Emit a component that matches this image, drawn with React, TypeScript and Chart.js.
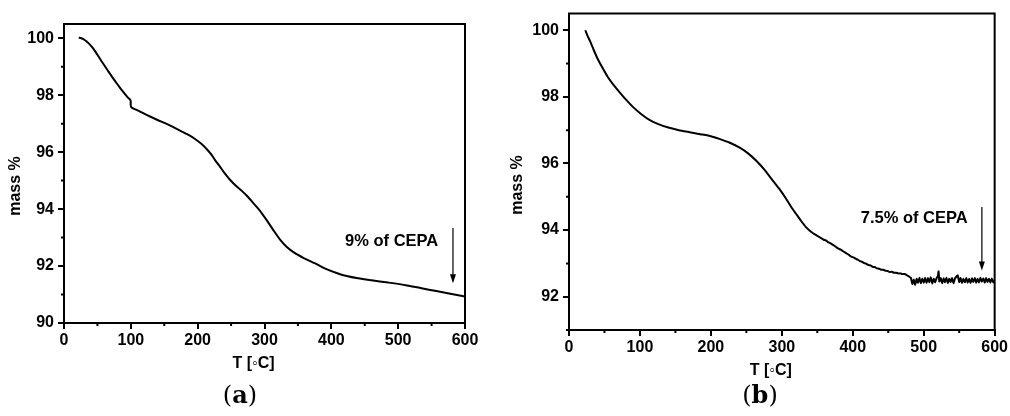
import React, { useEffect, useRef } from "react";
import { Chart, registerables } from "chart.js";

Chart.register(...registerables);

// ---------- data ----------
const tempA = [22, 26, 31, 37, 43, 50, 58, 66, 73, 81, 88, 95, 99.5, 100.5, 110, 120, 128, 140, 153, 165, 175, 185, 195, 205, 213, 220, 226, 233, 240, 248, 258, 266, 274, 283, 293, 303, 313, 323, 333, 345, 358, 375, 390, 410, 423, 440, 460, 485, 513, 535, 557, 580, 600];
const massA = [100.02, 100.0, 99.94, 99.82, 99.66, 99.42, 99.13, 98.85, 98.61, 98.35, 98.13, 97.93, 97.82, 97.58, 97.47, 97.35, 97.26, 97.13, 97.0, 96.86, 96.74, 96.62, 96.48, 96.3, 96.12, 95.93, 95.72, 95.5, 95.27, 95.04, 94.8, 94.64, 94.46, 94.22, 93.95, 93.62, 93.27, 92.94, 92.68, 92.46, 92.29, 92.1, 91.92, 91.74, 91.65, 91.57, 91.5, 91.42, 91.32, 91.22, 91.12, 91.02, 90.93];

const tempB = [23, 26, 30, 35, 40, 47, 54, 63, 72, 81, 90, 102, 114, 126, 140, 155, 170, 185, 200, 212, 226, 240, 252, 264, 276, 287, 297, 306, 313, 320, 327, 334, 343, 353,
  356, 359, 362, 365, 368, 371, 374, 377, 380, 383, 386, 389, 392, 395, 398, 401, 404, 407, 410, 413, 416, 419, 422, 425, 428, 431, 434, 437, 440, 443, 446, 449, 452, 455, 458, 461, 464, 467, 470, 473, 476, 479,
  482, 484, 486, 488, 490, 492, 494, 496, 498, 500, 502, 504, 506, 508, 510, 512, 514, 516, 518, 520, 521, 522, 524, 526, 528, 530, 532, 534, 536, 538, 540, 542, 544, 546, 548, 550, 552, 554, 556, 558, 560, 562, 564, 566, 568, 570, 572, 574, 576, 578, 580, 582, 584, 586, 588, 590, 592, 594, 596, 598, 600];
const massB = [100.0, 99.84, 99.66, 99.4, 99.16, 98.88, 98.62, 98.35, 98.12, 97.9, 97.7, 97.48, 97.3, 97.18, 97.08, 97.0, 96.94, 96.88, 96.82, 96.74, 96.63, 96.48, 96.31, 96.08, 95.8, 95.49, 95.22, 94.94, 94.7, 94.49, 94.28, 94.09, 93.92, 93.79,
  93.75, 93.71, 93.69, 93.64, 93.61, 93.57, 93.53, 93.48, 93.44, 93.41, 93.37, 93.33, 93.29, 93.25, 93.2, 93.18, 93.14, 93.11, 93.07, 93.05, 93.01, 92.99, 92.95, 92.94, 92.9, 92.89, 92.85, 92.84, 92.81, 92.81, 92.78, 92.77, 92.74, 92.75, 92.72, 92.72, 92.7, 92.7, 92.68, 92.68, 92.65, 92.61,
  92.56, 92.38, 92.52, 92.36, 92.54, 92.42, 92.57, 92.4, 92.55, 92.42, 92.57, 92.41, 92.56, 92.43, 92.58, 92.4, 92.54, 92.43, 92.55, 92.62, 92.76, 92.46, 92.56, 92.4, 92.55, 92.43, 92.57, 92.41, 92.54, 92.44, 92.56, 92.4, 92.55, 92.6, 92.64, 92.44, 92.56, 92.41, 92.54, 92.43, 92.56, 92.42, 92.54, 92.41, 92.55, 92.44, 92.56, 92.42, 92.54, 92.43, 92.57, 92.45, 92.55, 92.42, 92.56, 92.44, 92.54, 92.42, 92.55, 92.43, 92.5];

const xTicks = [0, 100, 200, 300, 400, 500, 600];
const xMinor = [50, 150, 250, 350, 450, 550];
const yTicksA = [90, 92, 94, 96, 98, 100];
const yMinorA = [91, 93, 95, 97, 99];
const yTicksB = [92, 94, 96, 98, 100];
const yMinorB = [91, 93, 95, 97, 99];

const xTitle = "T [\u25E6C]";
const yTitle = "mass %";
const noteA = "9% of CEPA";
const noteB = "7.5% of CEPA";
// arrow: temperature, top mass, bottom mass; note anchor: temperature (right end), mass
const arrowA = [582, 93.34, 91.4];
const noteAnchorA = [560, 92.85];
const arrowB = [582, 94.69, 92.79];
const noteAnchorB = [562, 94.36];

const FONT = "'Liberation Sans', Arial, sans-serif";

type PanelCfg = {
  temps: number[];
  mass: number[];
  yMin: number;
  yMax: number;
  yTicks: number[];
  yMinor: number[];
  arrow: number[];
  noteAnchor: number[];
  note: string;
  padTop: number;
  padRight: number;
  xHeight: number;
  yTitleX: number;
  yTitleY: number;
  tension: number;
};

function makeChart(canvas: HTMLCanvasElement, cfg: PanelCfg) {
  const overlay = {
    id: "overlay",
    afterDraw(chart: any) {
      const ctx = chart.ctx;
      const { left, right, top, bottom } = chart.chartArea;
      const xs = chart.scales.x;
      const ys = chart.scales.y;
      ctx.save();
      ctx.strokeStyle = "#000";
      ctx.lineWidth = 2;
      ctx.beginPath();
      ctx.moveTo(left - 1, top);
      ctx.lineTo(right, top);
      ctx.lineTo(right, bottom + 1);
      ctx.stroke();
      // minor ticks
      ctx.lineWidth = 2;
      ctx.beginPath();
      xMinor.forEach((v) => {
        const px = xs.getPixelForValue(v);
        ctx.moveTo(px, bottom);
        ctx.lineTo(px, bottom + 3);
      });
      cfg.yMinor.forEach((v) => {
        const py = ys.getPixelForValue(v);
        ctx.moveTo(left, py);
        ctx.lineTo(left - 3, py);
      });
      ctx.stroke();
      // arrow
      const ax = xs.getPixelForValue(cfg.arrow[0]);
      const ay1 = ys.getPixelForValue(cfg.arrow[1]);
      const ay2 = ys.getPixelForValue(cfg.arrow[2]);
      ctx.lineWidth = 1.2;
      ctx.beginPath();
      ctx.moveTo(ax, ay1);
      ctx.lineTo(ax, ay2 - 6);
      ctx.stroke();
      ctx.fillStyle = "#000";
      ctx.beginPath();
      ctx.moveTo(ax, ay2);
      ctx.lineTo(ax - 3, ay2 - 9);
      ctx.lineTo(ax + 3, ay2 - 9);
      ctx.closePath();
      ctx.fill();
      // note
      ctx.font = `bold 16.5px ${FONT}`;
      ctx.textAlign = "right";
      ctx.textBaseline = "middle";
      ctx.fillText(cfg.note, xs.getPixelForValue(cfg.noteAnchor[0]), ys.getPixelForValue(cfg.noteAnchor[1]));
      // axis titles
      ctx.font = `bold 16px ${FONT}`;
      ctx.textAlign = "center";
      ctx.textBaseline = "middle";
      ctx.fillText(xTitle, (left + right) / 2 - 11, bottom + 41);
      ctx.translate(cfg.yTitleX, cfg.yTitleY);
      ctx.rotate(-Math.PI / 2);
      ctx.fillText(yTitle, 0, 0);
      ctx.restore();
    },
  };

  const tickFont = { family: FONT, size: 16, weight: "bold" as const };
  return new Chart(canvas, {
    type: "line",
    data: {
      datasets: [
        {
          data: cfg.temps.map((t, i) => ({ x: t, y: cfg.mass[i] })),
          borderColor: "#000",
          borderWidth: 2,
          pointRadius: 0,
          tension: cfg.tension,
          fill: false,
        },
      ],
    },
    options: {
      responsive: false,
      animation: false,
      events: [],
      layout: { padding: { top: cfg.padTop, right: cfg.padRight, left: 0, bottom: 0 } },
      plugins: { legend: { display: false }, tooltip: { enabled: false } },
      scales: {
        x: {
          type: "linear",
          min: 0,
          max: 600,
          afterBuildTicks: (s: any) => {
            s.ticks = xTicks.map((v) => ({ value: v }));
          },
          afterFit: (s: any) => {
            s.height = cfg.xHeight;
          },
          border: { display: true, color: "#000", width: 2 },
          grid: { display: true, drawOnChartArea: false, drawTicks: true, tickLength: 6, color: "#000", lineWidth: 2 },
          ticks: { color: "#000", font: tickFont, padding: 2, maxRotation: 0 },
        },
        y: {
          type: "linear",
          min: cfg.yMin,
          max: cfg.yMax,
          afterBuildTicks: (s: any) => {
            s.ticks = cfg.yTicks.map((v) => ({ value: v }));
          },
          afterFit: (s: any) => {
            s.width = 64;
          },
          border: { display: true, color: "#000", width: 2 },
          grid: { display: true, drawOnChartArea: false, drawTicks: true, tickLength: 6, color: "#000", lineWidth: 2 },
          ticks: { color: "#000", font: tickFont, padding: 4 },
        },
      },
    },
    plugins: [overlay],
  } as any);
}

function Panel({ cfg, left }: { cfg: PanelCfg; left: number }) {
  const ref = useRef<HTMLCanvasElement>(null);
  useEffect(() => {
    const c = makeChart(ref.current!, cfg);
    return () => c.destroy();
  }, []);
  return (
    <canvas
      ref={ref}
      width={505}
      height={416}
      style={{ position: "absolute", left, top: 0, width: 505, height: 416 }}
    />
  );
}

const cfgA: PanelCfg = {
  temps: tempA,
  mass: massA,
  yMin: 90,
  yMax: 100.5,
  yTicks: yTicksA,
  yMinor: yMinorA,
  arrow: arrowA,
  noteAnchor: noteAnchorA,
  note: noteA,
  padTop: 24,
  padRight: 40,
  xHeight: 93,
  yTitleX: 16,
  yTitleY: 186,
  tension: 0.3,
};

const cfgB: PanelCfg = {
  temps: tempB,
  mass: massB,
  yMin: 91,
  yMax: 100.5,
  yTicks: yTicksB,
  yMinor: yMinorB,
  arrow: arrowB,
  noteAnchor: noteAnchorB,
  note: noteB,
  padTop: 13,
  padRight: 14,
  xHeight: 86,
  yTitleX: 13,
  yTitleY: 185,
  tension: 0.15,
};

const captionStyle: React.CSSProperties = {
  position: "absolute",
  top: 380,
  width: 100,
  textAlign: "center",
  fontFamily: "'DejaVu Serif', serif",
  fontSize: 24,
  lineHeight: "30px",
  color: "#000",
};

export default function App() {
  return (
    <div style={{ position: "absolute", left: 0, top: 0, width: 1010, height: 416, background: "#fff", overflow: "hidden" }}>
      <Panel cfg={cfgA} left={0} />
      <Panel cfg={cfgB} left={505} />
      <div style={{ ...captionStyle, left: 190 }}>
        (<b>a</b>)
      </div>
      <div style={{ ...captionStyle, left: 710 }}>
        (<b>b</b>)
      </div>
    </div>
  );
}
